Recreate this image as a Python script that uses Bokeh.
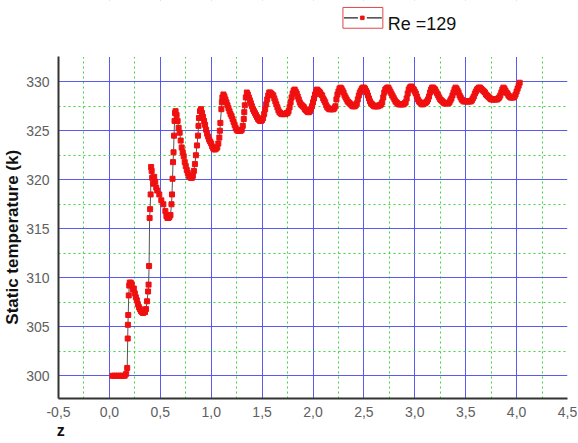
from bokeh.plotting import figure
from bokeh.models import FixedTicker, Range1d, ColumnDataSource
from bokeh.core.properties import value
from bokeh.embed import file_html
from bokeh.resources import INLINE

# ---------------- data ----------------
series_name = "Re =129"
y_title = "Static temperature (k)"
x_title = "z"
x_ticks = [-0.5, 0.0, 0.5, 1.0, 1.5, 2.0, 2.5, 3.0, 3.5, 4.0, 4.5]
x_tick_labels = ["-0,5", "0,0", "0,5", "1,0", "1,5", "2,0", "2,5", "3,0", "3,5", "4,0", "4,5"]
x_minor = [-0.25, 0.25, 0.75, 1.25, 1.75, 2.25, 2.75, 3.25, 3.75, 4.25]
y_ticks = [300, 305, 310, 315, 320, 325, 330]
y_minor = [302.5, 307.5, 312.5, 317.5, 322.5, 327.5]

z = [
    0.03, 0.05, 0.07, 0.09, 0.11, 0.13, 0.15, 0.165, 0.175, 0.18,
    0.182, 0.185, 0.19, 0.195, 0.20, 0.21, 0.22, 0.23, 0.24, 0.25,
    0.26, 0.27, 0.28, 0.29, 0.30, 0.31, 0.32, 0.33, 0.34, 0.35,
    0.36, 0.37, 0.38, 0.385, 0.39, 0.395, 0.40, 0.405, 0.41, 0.415,
    0.42, 0.43, 0.44, 0.45, 0.46, 0.47, 0.49, 0.51, 0.53, 0.55,
    0.56, 0.57, 0.58, 0.59, 0.60, 0.61, 0.615, 0.62, 0.625, 0.63,
    0.635, 0.64, 0.645,
    0.65, 0.66, 0.67, 0.68, 0.69, 0.70, 0.71, 0.72, 0.73, 0.74,
    0.75, 0.76, 0.77, 0.78, 0.79, 0.80, 0.81, 0.82, 0.83, 0.84,
    0.85, 0.86, 0.87, 0.875, 0.88, 0.89, 0.90, 0.91, 0.92, 0.93,
    0.94, 0.95, 0.96, 0.97, 0.98, 0.99, 1.00, 1.01, 1.02, 1.03,
    1.04, 1.05, 1.06, 1.07, 1.08, 1.085, 1.09, 1.10, 1.105, 1.11,
    1.12, 1.13, 1.14, 1.15, 1.16, 1.17, 1.18, 1.19, 1.20, 1.21,
    1.22, 1.23, 1.24, 1.25, 1.26, 1.27, 1.28, 1.29, 1.30, 1.31,
    1.32, 1.325, 1.33, 1.34, 1.35, 1.36, 1.37, 1.38, 1.39, 1.40,
    1.41, 1.42, 1.43, 1.44, 1.45, 1.46, 1.47, 1.48, 1.49, 1.50,
    1.51, 1.52, 1.53, 1.54, 1.55, 1.56, 1.57, 1.58, 1.59, 1.60,
    1.61, 1.62, 1.63, 1.64, 1.65, 1.66, 1.67, 1.68, 1.69, 1.70,
    1.71, 1.72, 1.73, 1.74, 1.75, 1.76, 1.77, 1.78, 1.79, 1.80,
    1.81, 1.82, 1.83, 1.84, 1.85, 1.86, 1.87, 1.88, 1.89, 1.90,
    1.91, 1.92, 1.93, 1.94, 1.95, 1.96, 1.97, 1.98, 1.99, 2.00,
    2.01, 2.02, 2.03, 2.04, 2.05, 2.06, 2.07, 2.08, 2.09, 2.10,
    2.11, 2.12, 2.13, 2.14, 2.15, 2.16, 2.17, 2.18, 2.19, 2.20,
    2.21, 2.22, 2.23, 2.24, 2.25, 2.26, 2.27, 2.28, 2.29, 2.30,
    2.31, 2.32, 2.33, 2.34, 2.35, 2.36, 2.37, 2.38, 2.39, 2.40,
    2.41, 2.42, 2.43, 2.44, 2.45, 2.46, 2.47, 2.48, 2.49, 2.50,
    2.51, 2.52, 2.53, 2.54, 2.55, 2.56, 2.57, 2.58, 2.59, 2.60,
    2.61, 2.62, 2.63, 2.64, 2.65, 2.66, 2.67, 2.68, 2.69, 2.70,
    2.71, 2.72, 2.73, 2.74, 2.75, 2.76, 2.77, 2.78, 2.79, 2.80,
    2.81, 2.82, 2.83, 2.84, 2.85, 2.86, 2.87, 2.88, 2.89, 2.90,
    2.91, 2.92, 2.93, 2.94, 2.95, 2.96, 2.97, 2.98, 2.99, 3.00,
    3.01, 3.02, 3.03, 3.04, 3.05, 3.06, 3.07, 3.08, 3.09, 3.10,
    3.11, 3.12, 3.13, 3.14, 3.15, 3.16, 3.17, 3.18, 3.19, 3.20,
    3.21, 3.22, 3.23, 3.24, 3.25, 3.26, 3.27, 3.28, 3.29, 3.30,
    3.31, 3.32, 3.33, 3.34, 3.35, 3.36, 3.37, 3.38, 3.39, 3.40,
    3.41, 3.42, 3.43, 3.44, 3.45, 3.46, 3.47, 3.48, 3.49, 3.50,
    3.51, 3.52, 3.53, 3.54, 3.55, 3.56, 3.57, 3.58, 3.59, 3.60,
    3.61, 3.62, 3.63, 3.64, 3.65, 3.66, 3.67, 3.68, 3.69, 3.70,
    3.71, 3.72, 3.73, 3.74, 3.75, 3.76, 3.77, 3.78, 3.79, 3.80,
    3.81, 3.82, 3.83, 3.84, 3.85, 3.86, 3.87, 3.88, 3.89, 3.90,
    3.91, 3.92, 3.93, 3.94, 3.95, 3.96, 3.97, 3.98, 3.99, 4.00,
    4.01, 4.02, 4.03,
]
temperature = [
    300.0, 300.0, 300.0, 300.0, 300.0, 300.0, 300.0, 300.2, 300.8, 303.8,
    305.2, 306.2, 308.2, 309.2, 309.5, 309.5, 309.3, 308.8, 308.9, 308.4,
    308.0, 307.7, 307.3, 307.0, 306.8, 306.6, 306.5, 306.4, 306.5, 306.5,
    306.8, 307.6, 308.6, 309.3, 311.2, 316.1, 317.0, 318.5, 321.3, 320.9,
    320.2, 319.6, 320.3, 319.8, 319.2, 318.9, 318.5, 317.9, 317.5, 316.8,
    316.3, 316.1, 316.1, 316.2, 316.4, 317.5, 318.5, 320.1, 321.8, 322.8,
    324.5, 326.0, 326.8,
    327.0, 326.6, 326.0, 325.3, 324.8, 324.0, 323.3, 322.8, 322.4, 321.8,
    321.4, 321.0, 320.7, 320.4, 320.3, 320.2, 320.2, 320.4, 320.9, 321.6,
    322.5, 323.5, 324.5, 325.5, 326.3, 327.0, 327.2, 326.8, 326.4, 326.0,
    325.6, 325.1, 324.7, 324.4, 324.1, 323.9, 323.7, 323.4, 323.2, 323.1,
    323.1, 323.2, 323.3, 323.7, 324.3, 325.0, 325.8, 327.2, 327.9, 328.4,
    328.7, 328.5, 328.2, 327.9, 327.6, 327.3, 327.0, 326.7, 326.5, 326.2,
    325.9, 325.6, 325.3, 325.1, 325.0, 325.0, 325.0, 325.0, 325.1, 325.5,
    326.2, 326.9, 327.6, 328.4, 328.9, 328.7, 328.4, 328.1, 327.8, 327.5,
    327.2, 327.0, 326.8, 326.6, 326.4, 326.2, 326.1, 326.0, 326.0, 326.1,
    326.3, 326.7, 327.2, 327.7, 328.2, 328.6, 328.9, 328.9, 328.8, 328.7,
    328.6, 328.3, 328.0, 327.7, 327.4, 327.1, 326.9, 326.8, 326.7, 326.7,
    326.7, 326.7, 326.7, 326.8, 326.8, 327.0, 327.4, 327.9, 328.4, 328.8,
    329.1, 329.2, 329.0, 328.8, 328.5, 328.2, 327.9, 327.7, 327.6, 327.5,
    327.4, 327.2, 327.1, 327.0, 326.9, 326.9, 327.0, 327.2, 327.5, 327.9,
    328.3, 328.7, 329.0, 329.2, 329.1, 329.0, 328.9, 328.7, 328.6, 328.3,
    328.1, 327.9, 327.6, 327.4, 327.3, 327.2, 327.2, 327.2, 327.2, 327.2,
    327.3, 327.5, 328.2, 328.7, 329.0, 329.3, 329.4, 329.3, 329.1, 328.9,
    328.6, 328.4, 328.2, 328.0, 327.9, 327.8, 327.7, 327.6, 327.5, 327.5,
    327.5, 327.6, 327.8, 328.2, 328.6, 328.9, 329.1, 329.3, 329.4, 329.4,
    329.3, 329.1, 328.9, 328.6, 328.3, 328.0, 327.8, 327.7, 327.6, 327.5,
    327.5, 327.5, 327.5, 327.5, 327.6, 327.6, 327.7, 327.9, 328.4, 328.9,
    329.2, 329.3, 329.4, 329.4, 329.2, 329.0, 328.8, 328.6, 328.4, 328.2,
    328.0, 327.9, 327.8, 327.7, 327.7, 327.7, 327.7, 327.7, 327.7, 327.8,
    327.9, 328.3, 328.8, 329.2, 329.4, 329.5, 329.5, 329.3, 329.2, 329.0,
    328.8, 328.5, 328.2, 328.0, 327.9, 327.8, 327.7, 327.7, 327.8, 327.8,
    327.9, 328.0, 328.2, 328.5, 328.9, 329.2, 329.4, 329.4, 329.3, 329.2,
    329.0, 328.8, 328.6, 328.4, 328.2, 328.1, 328.0, 327.9, 327.8, 327.8,
    327.8, 327.8, 327.8, 327.9, 328.1, 328.3, 328.6, 328.9, 329.2, 329.4,
    329.3, 329.1, 328.9, 328.6, 328.4, 328.2, 328.1, 328.0, 328.0, 328.0,
    328.0, 328.0, 328.0, 328.0, 328.0, 328.1, 328.3, 328.5, 328.8, 329.0,
    329.2, 329.3, 329.4, 329.4, 329.3, 329.2, 329.1, 329.0, 328.9, 328.7,
    328.6, 328.5, 328.4, 328.3, 328.2, 328.2, 328.2, 328.2, 328.2, 328.2,
    328.2, 328.3, 328.4, 328.6, 328.9, 329.2, 329.4, 329.3, 329.1, 328.9,
    328.8, 328.6, 328.5, 328.4, 328.4, 328.4, 328.4, 328.5, 328.7, 329.0,
    329.3, 329.6, 329.9,
]

FONT = "Liberation Sans"
RED = "#f01010"

X0, X1 = -0.5, 4.5          # plotted x extent
Y0, Y1 = 297.68, 332.53     # plotted y extent
Y_TOP = 338.29              # frame continues above the plot to hold the legend

W, H = 577, 441
p = figure(width=W, height=H, x_range=Range1d(X0, X1), y_range=Range1d(Y0, Y_TOP),
           output_backend="svg", toolbar_location=None,
           min_border_left=57, min_border_right=10, min_border_top=0, min_border_bottom=39)
p.outline_line_color = None
p.background_fill_color = "white"
p.border_fill_color = "white"

xt = FixedTicker(ticks=x_ticks, minor_ticks=x_minor)
yt = FixedTicker(ticks=y_ticks, minor_ticks=y_minor)
p.xaxis.ticker = xt
p.yaxis.ticker = yt
p.xgrid.ticker = xt
p.ygrid.ticker = yt
p.xaxis.major_label_overrides = {t: l for t, l in zip(x_ticks, x_tick_labels)}
p.yaxis.bounds = (Y0, Y1)

for g in (p.xgrid, p.ygrid):
    g.grid_line_color = "#4848f0"
    g.grid_line_width = 1
    g.grid_line_alpha = 0.9
    g.minor_grid_line_color = "#3ad83a"
    g.minor_grid_line_dash = "2 3"
    g.minor_grid_line_width = 1

for ax in (p.xaxis, p.yaxis):
    ax.axis_line_color = "#333333"
    ax.axis_line_width = 2
    ax.major_tick_line_color = None
    ax.minor_tick_line_color = None
    ax.major_label_text_font = FONT
    ax.major_label_text_font_size = "14px"
    ax.major_label_text_color = "#606060"
    ax.axis_label_text_font = FONT
    ax.axis_label_text_font_style = "bold"
    ax.axis_label_text_color = "#111111"

p.xaxis.major_label_standoff = 2
p.yaxis.major_label_standoff = 3
# the frame runs up into the legend band, so the title is padded at its top end
# (non-breaking spaces) to keep it centred on the plotted area
p.yaxis.axis_label = y_title + "\u00a0" * 16
p.yaxis.axis_label_text_font_size = "17px"
p.yaxis.axis_label_standoff = 1
p.xaxis.axis_label = "\u00a0" + x_title
p.xaxis.axis_label_text_font_size = "16px"
p.xaxis.axis_label_standoff = 2
p.xaxis.axis_label_align = "start"

# white band hiding the grid above the plotting area (legend lives there)
p.quad(left=[X0], right=[X1], bottom=[Y1], top=[Y_TOP], fill_color="white",
       line_color=None)

src = ColumnDataSource(data=dict(z=z, T=temperature))
p.line("z", "T", source=src, line_color="#555555", line_width=1)
p.scatter("z", "T", source=src, marker="square", size=5, color=RED)

# legend (key box with line-dot-line, then label)
p.quad(left=[2.294], right=[2.686], bottom=[335.46], top=[337.58],
       fill_color=None, line_color="#e04848", line_width=1)
p.segment(x0=[2.304, 2.529], y0=[336.52, 336.52], x1=[2.441, 2.676], y1=[336.52, 336.52],
          line_color="#222222", line_width=1.2)
p.scatter(x=[2.485], y=[336.52], marker="square", size=3.5, color=RED)
p.text(x=[2.735], y=[335.86], text=[series_name], text_font=value(FONT),
       text_font_size=value("18px"), text_color="#111111", text_baseline="alphabetic")

open("out.html", "w").write(file_html(p, INLINE))
